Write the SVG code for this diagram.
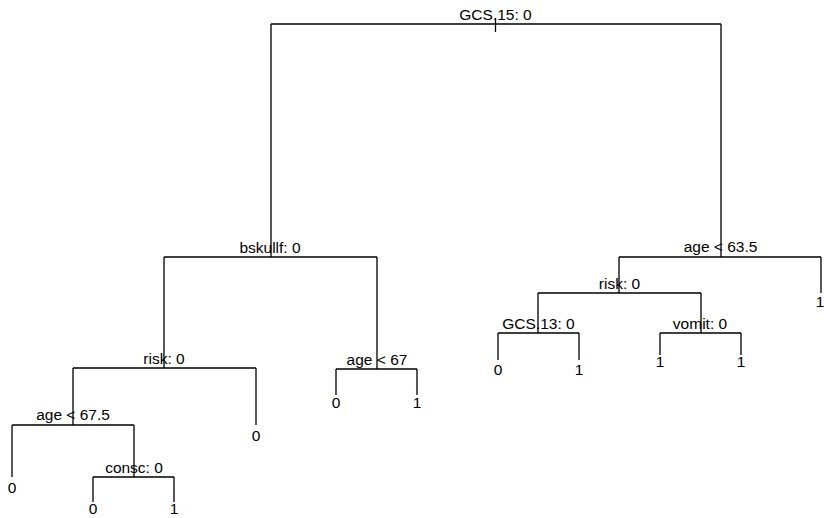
<svg xmlns="http://www.w3.org/2000/svg" width="824" height="518" viewBox="0 0 824 518">
<style>
.e{fill:none;stroke:#000;stroke-width:1.3;stroke-linecap:butt}
.t{font-family:"Liberation Sans",Arial,sans-serif;font-size:15.5px;fill:#000;text-anchor:middle}
</style>
<rect width="824" height="518" fill="#fff"/>
<g id="connectors" class="e">
<path d="M495.5,18V32"/>
<path d="M271,24H721"/>
<path d="M271,24V257M164,257H377"/>
<path d="M721,24V257M619,257H821"/>
<path d="M821,257V293"/>
<path d="M619,257V293M538,293H701"/>
<path d="M538,293V333M498,333H579"/>
<path d="M498,333V360M579,333V360"/>
<path d="M701,293V333M660,333H741"/>
<path d="M660,333V355M741,333V355"/>
<path d="M164,257V368M73,368H256"/>
<path d="M377,257V369M336,369H417"/>
<path d="M336,369V395M417,369V395"/>
<path d="M256,368V425"/>
<path d="M73,368V425M12,425H134"/>
<path d="M12,425V477"/>
<path d="M134,425V477M93,477H174"/>
<path d="M93,477V502M174,477V502"/>
</g>
<g id="n_root"><text class="t" x="495.5" y="20">GCS.15: 0</text></g>
<g id="n_bskullf"><text class="t" x="270" y="253">bskullf: 0</text></g>
<g id="n_age635"><text class="t" x="720.5" y="252">age &lt; 63.5</text></g>
<g id="n_leaf_r1"><text class="t" x="820" y="307">1</text></g>
<g id="n_risk_r"><text class="t" x="619.5" y="289">risk: 0</text></g>
<g id="n_gcs13"><text class="t" x="538.5" y="329">GCS.13: 0</text></g>
<g id="n_leaf_g0"><text class="t" x="498" y="375">0</text></g>
<g id="n_leaf_g1"><text class="t" x="579" y="375">1</text></g>
<g id="n_vomit"><text class="t" x="700" y="329">vomit: 0</text></g>
<g id="n_leaf_v1a"><text class="t" x="660" y="367">1</text></g>
<g id="n_leaf_v1b"><text class="t" x="741" y="367">1</text></g>
<g id="n_risk_l"><text class="t" x="164" y="364">risk: 0</text></g>
<g id="n_age67"><text class="t" x="377" y="365">age &lt; 67</text></g>
<g id="n_leaf_a0"><text class="t" x="336" y="408">0</text></g>
<g id="n_leaf_a1"><text class="t" x="417" y="408">1</text></g>
<g id="n_leaf_rl0"><text class="t" x="256" y="441">0</text></g>
<g id="n_age675"><text class="t" x="73" y="420">age &lt; 67.5</text></g>
<g id="n_leaf_x0"><text class="t" x="12" y="493">0</text></g>
<g id="n_consc"><text class="t" x="134" y="473">consc: 0</text></g>
<g id="n_leaf_c0"><text class="t" x="93" y="514">0</text></g>
<g id="n_leaf_c1"><text class="t" x="174" y="514">1</text></g>
</svg>
